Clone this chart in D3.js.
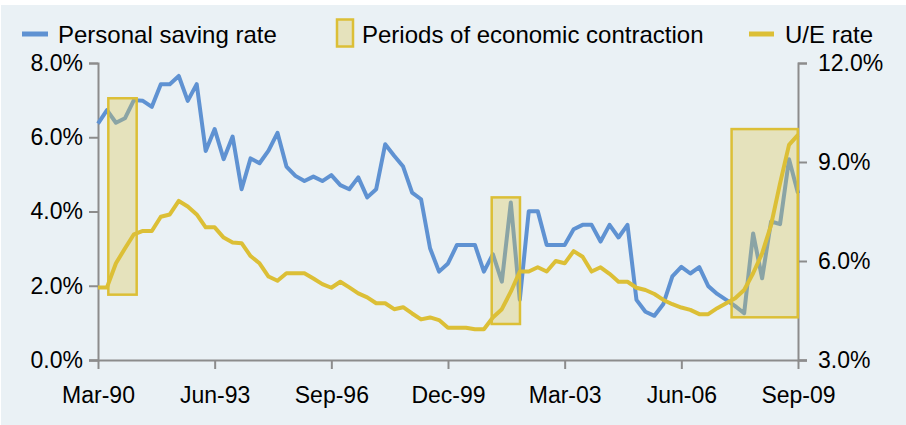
<!DOCTYPE html>
<html>
<head>
    <title>Personal saving rate vs U/E rate</title>
    <script src="https://d3js.org/d3.v7.min.js"></script>
    <style>
        body { margin: 0; background: #ffffff; }
        text { font-family: "Liberation Sans", Arial, sans-serif; fill: #000; }
    </style>
</head>
<body>
<div id="chart"></div>
<script>
    // quarterly, Mar-90 .. Sep-09 (79 quarters)
    const saving = [6.37, 6.73, 6.39, 6.51, 7.0, 6.98, 6.82, 7.43, 7.43, 7.65,
        6.98, 7.43, 5.63, 6.22, 5.41, 6.02, 4.6, 5.43, 5.3, 5.64,
        6.12, 5.21, 4.96, 4.82, 4.94, 4.82, 4.98, 4.71, 4.6, 4.92,
        4.38, 4.6, 5.81, 5.5, 5.21, 4.51, 4.33, 3.01, 2.38, 2.6,
        3.1, 3.1, 3.1, 2.38, 2.85, 2.11, 4.24, 1.62, 4.01, 4.01,
        3.1, 3.1, 3.1, 3.52, 3.64, 3.64, 3.19, 3.64, 3.3, 3.64,
        1.62, 1.3, 1.19, 1.51, 2.25, 2.51, 2.33, 2.5, 1.99, 1.78,
        1.62, 1.45, 1.26, 3.41, 2.2, 3.73, 3.66, 5.41, 4.49];

    const unemp = [5.2, 5.2, 5.93, 6.38, 6.81, 6.91, 6.91, 7.34, 7.41, 7.82,
        7.65, 7.41, 7.02, 7.02, 6.71, 6.56, 6.54, 6.15, 5.93, 5.53,
        5.4, 5.63, 5.63, 5.63, 5.47, 5.3, 5.19, 5.37, 5.2, 5.02,
        4.9, 4.72, 4.72, 4.54, 4.6, 4.41, 4.23, 4.29, 4.21, 3.98,
        3.98, 3.98, 3.93, 3.93, 4.29, 4.54, 5.07, 5.68, 5.68, 5.81,
        5.68, 6.0, 5.93, 6.3, 6.13, 5.68, 5.81, 5.61, 5.37, 5.37,
        5.19, 5.12, 5.0, 4.82, 4.69, 4.59, 4.52, 4.39, 4.39, 4.57,
        4.72, 4.87, 5.12, 5.63, 6.23, 7.09, 8.35, 9.52, 9.82];

    // contraction boxes: start/end quarter index, low/high on left axis
    const recStart = [1.15, 43.87, 70.6];
    const recEnd = [4.31, 47.02, 77.97];
    const recLow = [1.76, 0.97, 1.15];
    const recHigh = [7.05, 4.38, 6.22];

    const tickIdx = [0, 13, 26, 39, 52, 65, 78];
    const tickLabels = ["Mar-90", "Jun-93", "Sep-96", "Dec-99", "Mar-03", "Jun-06", "Sep-09"];
    const leftTicks = [0, 2, 4, 6, 8];
    const rightTicks = [3, 6, 9, 12];

    const width = 906;
    const height = 425;
    const margin = { top: 63, right: 108, bottom: 65, left: 98 };

    const blue = "#5f92d2";
    const gold = "#dcbf36";
    const axisGrey = "#8c8c8c";

    const x = d3.scaleLinear()
        .domain([0, saving.length - 1])
        .range([margin.left, width - margin.right]);

    const yL = d3.scaleLinear()
        .domain([0, 8])
        .range([height - margin.bottom, margin.top]);

    const yR = d3.scaleLinear()
        .domain([3, 12])
        .range([height - margin.bottom, margin.top]);

    const svg = d3.select("#chart")
        .append("svg")
        .attr("width", width)
        .attr("height", height);

    svg.append("rect")
        .attr("x", 1).attr("y", 5)
        .attr("width", width - 1).attr("height", height - 5)
        .attr("fill", "#eaf1f5");

    const lineL = d3.line()
        .x((d, i) => x(i))
        .y(d => yL(d));

    const lineR = d3.line()
        .x((d, i) => x(i))
        .y(d => yR(d));

    // axes
    const fmt = d3.format(".1f");

    const gl = svg.append("g")
        .attr("transform", `translate(${margin.left},0)`)
        .call(d3.axisLeft(yL).tickValues(leftTicks).tickSize(9).tickPadding(6).tickFormat(d => fmt(d) + "%"));

    const gr = svg.append("g")
        .attr("transform", `translate(${width - margin.right},0)`)
        .call(d3.axisRight(yR).tickValues(rightTicks).tickSize(9).tickPadding(11).tickFormat(d => fmt(d) + "%"));

    const gb = svg.append("g")
        .attr("transform", `translate(0,${height - margin.bottom})`)
        .call(d3.axisBottom(x).tickValues(tickIdx).tickSize(9).tickPadding(18).tickFormat((d, i) => tickLabels[i]));

    [gl, gr, gb].forEach(g => {
        g.select(".domain").attr("stroke", axisGrey).attr("stroke-width", 2);
        g.selectAll(".tick line").attr("stroke", axisGrey).attr("stroke-width", 2);
        g.selectAll(".tick text").style("font-size", "23px").style("font-family", "'Liberation Sans', Arial, sans-serif").attr("fill", "#000");
    });
    // bottom axis line runs out to the outer ticks
    gb.select(".domain").attr("d", `M${margin.left - 9},0.5H${width - margin.right + 9}`);

    // saving rate
    svg.append("path")
        .datum(saving)
        .attr("fill", "none")
        .attr("stroke", blue)
        .attr("stroke-width", 4)
        .attr("stroke-linejoin", "round")
        .attr("d", lineL);

    // contraction boxes
    svg.selectAll(".rec")
        .data(recStart)
        .enter().append("rect")
        .attr("class", "rec")
        .attr("x", (d, i) => x(recStart[i]))
        .attr("y", (d, i) => yL(recHigh[i]))
        .attr("width", (d, i) => x(recEnd[i]) - x(recStart[i]))
        .attr("height", (d, i) => yL(recLow[i]) - yL(recHigh[i]))
        .attr("fill", "rgba(221,198,84,0.35)")
        .attr("stroke", gold)
        .attr("stroke-width", 2.5);

    // U/E rate
    svg.append("path")
        .datum(unemp)
        .attr("fill", "none")
        .attr("stroke", gold)
        .attr("stroke-width", 4)
        .attr("stroke-linejoin", "round")
        .attr("d", lineR);

    // legend
    svg.append("line").attr("x1", 22).attr("x2", 48).attr("y1", 34).attr("y2", 34)
        .attr("stroke", blue).attr("stroke-width", 5);
    svg.append("text").attr("x", 58).attr("y", 43).text("Personal saving rate").style("font-size", "24px");

    svg.append("rect").attr("x", 337).attr("y", 19.5).attr("width", 16).attr("height", 27)
        .attr("fill", "rgba(221,198,84,0.35)").attr("stroke", gold).attr("stroke-width", 2.5);
    svg.append("text").attr("x", 362).attr("y", 43).text("Periods of economic contraction").style("font-size", "24px");

    svg.append("line").attr("x1", 749).attr("x2", 774).attr("y1", 34).attr("y2", 34)
        .attr("stroke", gold).attr("stroke-width", 5);
    svg.append("text").attr("x", 785).attr("y", 43).text("U/E rate").style("font-size", "24px");
</script>
</body>
</html>
